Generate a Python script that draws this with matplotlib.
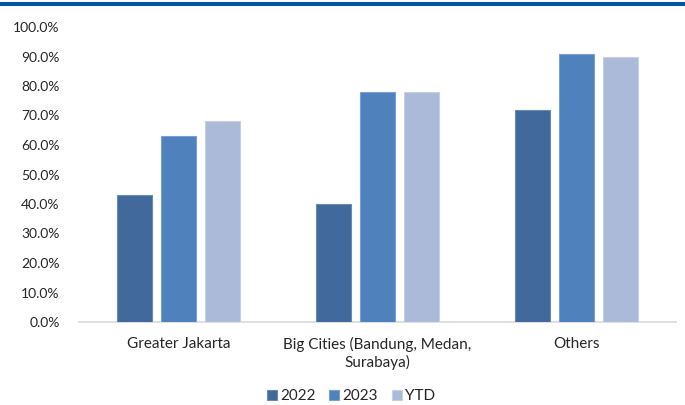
import matplotlib
matplotlib.use("Agg")
import matplotlib.pyplot as plt
import numpy as np
from matplotlib.patches import Rectangle

categories = ["Greater Jakarta", "Big Cities (Bandung, Medan,\nSurabaya)", "Others"]
series_names = ["2022", "2023", "YTD"]
v2022 = [43.0, 40.0, 72.0]
v2023 = [63.0, 78.0, 91.0]
vytd = [68.0, 78.0, 90.0]
yticks = [0, 10, 20, 30, 40, 50, 60, 70, 80, 90, 100]
colors = ["#41699b", "#4f81bd", "#aabad8"]
edges = ["#6a8ab3", "#7a9fd0", "#c5d0e5"]

plt.rcParams['font.family'] = ['Lato', 'DejaVu Sans']

fig = plt.figure(figsize=(6.85, 4.05), dpi=100)
ax = fig.add_axes([79/685, 1 - 322/405, (676 - 79)/685, (322 - 27)/405])

x = np.arange(len(categories))
w = 0.175
step = 0.22
for i, (vals, c, ec, name) in enumerate(zip([v2022, v2023, vytd], colors, edges, series_names)):
    ax.bar(x + (i - 1) * step, vals, width=w, color=c, edgecolor=ec, linewidth=0.8, label=name, zorder=3)

ax.set_xlim(-0.5, len(categories) - 0.5)
ax.set_ylim(0, 100)
ax.set_yticks(yticks)
ax.set_yticklabels([f"{t:.1f}%" for t in yticks], fontsize=10, color="#262626")
ax.set_xticks(x)
ax.set_xticklabels(categories, fontsize=11, color="#262626", linespacing=1.2)
ax.tick_params(axis='y', length=0, pad=14)
ax.tick_params(axis='x', length=0, pad=11)
for s in ["top", "right", "left"]:
    ax.spines[s].set_visible(False)
ax.spines["bottom"].set_color("#d9d9d9")
ax.spines["bottom"].set_linewidth(1.2)

leg = fig.legend(loc="center", bbox_to_anchor=(351/685, 1 - 396/405), ncol=3, frameon=False,
                 fontsize=11, handlelength=0.65, handleheight=0.65, handletextpad=0.2,
                 columnspacing=0.9, labelcolor="#262626", borderpad=0)

# top blue border
fig.add_artist(Rectangle((0, 1 - 6/405), 1, 4/405, transform=fig.transFigure,
                         color="#0055a5", linewidth=0))

fig.savefig("out.png", dpi=100)
